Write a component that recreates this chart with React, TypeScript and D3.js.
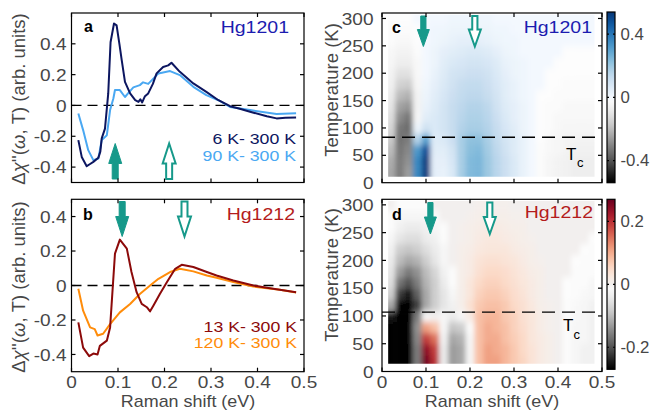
import React from "react";
import * as d3 from "d3";

// ---------------- data ----------------
const xTicks = [0, 0.1, 0.2, 0.3, 0.4, 0.5];
const yTicksA = [-0.4, -0.2, 0, 0.2, 0.4];
const yTicksB = [-0.4, -0.2, 0, 0.2, 0.4];
const tTicks = [0, 50, 100, 150, 200, 250, 300];
const cbTicksC = [-0.4, 0, 0.4];
const cbTicksD = [-0.2, 0, 0.2];

// panel a : Hg1201
const hg1201_6K: [number, number][] = [
  [0.0147, -0.225], [0.022, -0.334], [0.0327, -0.394], [0.04, -0.38], [0.047, -0.366], [0.0577, -0.34],
  [0.062, -0.3], [0.065, -0.214], [0.072, -0.15], [0.079, 0.078], [0.084, 0.41], [0.0914, 0.532],
  [0.097, 0.52], [0.103, 0.4], [0.108, 0.294], [0.115, 0.153], [0.126, 0.078], [0.137, 0.034],
  [0.144, 0.023], [0.148, 0.04], [0.152, 0.02], [0.158, 0.06], [0.165, 0.078], [0.175, 0.14],
  [0.183, 0.208], [0.197, 0.25], [0.208, 0.26], [0.215, 0.277], [0.233, 0.218], [0.262, 0.143],
  [0.29, 0.088], [0.316, 0.034], [0.341, -0.005], [0.36, -0.02], [0.384, -0.041], [0.42, -0.07],
  [0.441, -0.084], [0.46, -0.08], [0.483, -0.078],
];
const hg1201_90K: [number, number][] = [
  [0.0147, -0.052], [0.025, -0.16], [0.036, -0.29], [0.047, -0.355], [0.0577, -0.344], [0.065, -0.225],
  [0.076, -0.193], [0.083, -0.03], [0.09, 0.045], [0.0935, 0.1], [0.104, 0.1], [0.115, 0.055],
  [0.122, 0.08], [0.133, 0.117], [0.147, 0.132], [0.154, 0.15], [0.165, 0.14], [0.187, 0.208],
  [0.212, 0.223], [0.233, 0.197], [0.262, 0.121], [0.29, 0.067], [0.316, 0.034], [0.341, -0.01],
  [0.384, -0.03], [0.441, -0.055], [0.483, -0.05],
];

// panel b : Hg1212
const hg1212_13K: [number, number][] = [
  [0.0147, -0.214], [0.025, -0.36], [0.038, -0.41], [0.047, -0.395], [0.056, -0.4], [0.061, -0.35],
  [0.076, -0.32], [0.083, -0.243], [0.0935, 0.185], [0.104, 0.266], [0.119, 0.214], [0.129, 0.078],
  [0.14, -0.039], [0.151, -0.107], [0.162, -0.126], [0.169, -0.15], [0.176, -0.117], [0.19, -0.049],
  [0.205, 0.019], [0.223, 0.097], [0.237, 0.12], [0.262, 0.107], [0.291, 0.078], [0.312, 0.058],
  [0.348, 0.029], [0.391, 0.0], [0.42, -0.013], [0.448, -0.025], [0.483, -0.039],
];
const hg1212_120K: [number, number][] = [
  [0.0147, -0.019], [0.025, -0.146], [0.04, -0.243], [0.05, -0.253], [0.056, -0.29], [0.068, -0.28],
  [0.083, -0.224], [0.104, -0.156], [0.126, -0.107], [0.147, -0.049], [0.169, 0.0], [0.187, 0.039],
  [0.212, 0.078], [0.233, 0.097], [0.262, 0.082], [0.291, 0.058], [0.312, 0.045], [0.348, 0.02],
  [0.391, -0.006], [0.448, -0.025], [0.483, -0.04],
];

// arrows (energy of gap features, eV)
const arrowsA = [0.094, 0.21];
const arrowsB = [0.109, 0.243];
const arrowsC = [0.094, 0.211];
const arrowsD = [0.11, 0.245];

// Tc (K)
const tcC = 83;
const tcD = 107;

// heat maps: energy columns (eV) x temperature rows (K)
const heatE = [0.02, 0.04, 0.06, 0.08, 0.1, 0.12, 0.14, 0.16, 0.18, 0.2, 0.22, 0.24, 0.26, 0.28, 0.3, 0.32, 0.34, 0.36, 0.38, 0.4, 0.42, 0.44, 0.46, 0.48];
const heatT = [20, 40, 60, 80, 100, 120, 140, 160, 180, 200, 220, 240, 260, 280, 300];
const heatExtentC = { e0: 0.014, e1: 0.483, t0: 11, t1: 307 };
const heatExtentD = { e0: 0.014, e1: 0.483, t0: 14, t1: 307 };

const heatC: number[][] = [
  [-0.24, -0.32, -0.26, 0.36, 0.52, 0.04, 0.03, 0.07, 0.18, 0.24, 0.25, 0.20, 0.15, 0.11, 0.07, 0.03, 0.0, -0.02, -0.04, -0.05, -0.06, -0.07, -0.07, -0.07],
  [-0.23, -0.32, -0.28, 0.36, 0.52, 0.04, 0.04, 0.08, 0.18, 0.24, 0.25, 0.20, 0.15, 0.11, 0.07, 0.03, 0.0, -0.02, -0.04, -0.05, -0.06, -0.07, -0.07, -0.07],
  [-0.20, -0.33, -0.30, 0.32, 0.48, 0.05, 0.05, 0.09, 0.18, 0.23, 0.24, 0.19, 0.14, 0.10, 0.06, 0.03, 0.0, -0.02, -0.03, -0.04, -0.05, -0.06, -0.06, -0.06],
  [-0.17, -0.34, -0.32, 0.16, 0.30, 0.06, 0.07, 0.11, 0.18, 0.22, 0.22, 0.18, 0.13, 0.09, 0.06, 0.03, 0.0, -0.01, -0.03, -0.04, -0.05, -0.05, -0.05, -0.05],
  [-0.14, -0.33, -0.35, 0.02, 0.10, 0.07, 0.09, 0.12, 0.16, 0.18, 0.18, 0.16, 0.12, 0.08, 0.05, 0.02, 0.0, -0.01, -0.02, -0.03, -0.04, -0.04, -0.04, -0.04],
  [-0.12, -0.29, -0.33, -0.04, 0.05, 0.07, 0.09, 0.12, 0.15, 0.17, 0.17, 0.15, 0.11, 0.07, 0.04, 0.02, 0.0, -0.01, -0.02, -0.03, -0.03, -0.03, -0.03, -0.03],
  [-0.10, -0.25, -0.27, -0.05, 0.03, 0.06, 0.09, 0.12, 0.14, 0.16, 0.16, 0.14, 0.10, 0.06, 0.04, 0.02, 0.0, -0.01, -0.02, -0.02, -0.03, -0.03, -0.03, -0.03],
  [-0.08, -0.20, -0.22, -0.05, 0.02, 0.05, 0.08, 0.11, 0.13, 0.14, 0.14, 0.12, 0.09, 0.05, 0.03, 0.01, 0.0, -0.01, -0.01, -0.02, -0.02, -0.02, -0.02, -0.02],
  [-0.06, -0.15, -0.16, -0.04, 0.01, 0.04, 0.07, 0.10, 0.12, 0.13, 0.13, 0.11, 0.08, 0.05, 0.03, 0.01, 0.0, 0.0, -0.01, -0.01, -0.02, -0.02, -0.02, -0.02],
  [-0.05, -0.11, -0.11, -0.03, 0.0, 0.03, 0.06, 0.09, 0.10, 0.11, 0.11, 0.10, 0.07, 0.04, 0.02, 0.01, 0.0, 0.0, -0.01, -0.01, -0.01, -0.01, -0.01, -0.01],
  [-0.04, -0.07, -0.07, -0.03, 0.0, 0.02, 0.05, 0.07, 0.08, 0.09, 0.09, 0.08, 0.06, 0.03, 0.02, 0.01, 0.0, 0.0, 0.0, -0.01, -0.01, -0.01, -0.01, -0.01],
  [-0.03, -0.05, -0.05, -0.02, 0.0, 0.02, 0.04, 0.05, 0.06, 0.07, 0.07, 0.06, 0.04, 0.02, 0.01, 0.0, 0.0, 0.0, 0.0, 0.0, -0.01, -0.01, -0.01, -0.01],
  [-0.02, -0.03, -0.03, -0.01, 0.0, 0.01, 0.02, 0.03, 0.04, 0.04, 0.04, 0.03, 0.02, 0.01, 0.01, 0.0, 0.0, 0.0, 0.0, 0.0, 0.0, 0.0, 0.0, 0.0],
  [-0.02, -0.02, -0.02, -0.01, 0.0, 0.01, 0.01, 0.02, 0.02, 0.02, 0.02, 0.02, 0.01, 0.01, 0.0, 0.0, 0.0, 0.0, 0.0, 0.0, 0.0, 0.0, 0.0, 0.0],
  [-0.01, -0.01, -0.01, 0.0, 0.0, 0.0, 0.0, 0.01, 0.01, 0.01, 0.01, 0.01, 0.0, 0.0, 0.0, 0.0, 0.0, 0.0, 0.0, 0.0, 0.0, 0.0, 0.0, 0.0],
];

const heatD: number[][] = [
  [-0.30, -0.40, -0.38, -0.16, 0.26, 0.20, -0.04, -0.13, -0.12, -0.02, 0.08, 0.11, 0.11, 0.09, 0.07, 0.055, 0.035, 0.02, 0.01, 0.0, -0.01, -0.02, -0.03, -0.03],
  [-0.30, -0.40, -0.38, -0.16, 0.24, 0.19, -0.04, -0.13, -0.12, -0.02, 0.08, 0.11, 0.10, 0.09, 0.07, 0.05, 0.035, 0.02, 0.01, 0.0, -0.01, -0.02, -0.03, -0.03],
  [-0.29, -0.39, -0.37, -0.15, 0.19, 0.15, -0.03, -0.12, -0.11, -0.02, 0.08, 0.10, 0.10, 0.08, 0.065, 0.05, 0.03, 0.02, 0.01, 0.0, -0.01, -0.02, -0.02, -0.03],
  [-0.28, -0.38, -0.36, -0.14, 0.11, 0.08, -0.02, -0.09, -0.08, -0.01, 0.08, 0.10, 0.09, 0.08, 0.06, 0.045, 0.03, 0.015, 0.005, 0.0, -0.01, -0.02, -0.02, -0.03],
  [-0.25, -0.36, -0.36, -0.16, -0.02, 0.0, -0.02, -0.04, -0.02, 0.02, 0.08, 0.09, 0.09, 0.07, 0.06, 0.04, 0.03, 0.015, 0.005, 0.0, -0.01, -0.015, -0.02, -0.03],
  [-0.12, -0.30, -0.32, -0.22, -0.12, -0.08, -0.05, -0.03, 0.01, 0.04, 0.07, 0.08, 0.08, 0.07, 0.05, 0.04, 0.025, 0.01, 0.005, 0.0, -0.01, -0.015, -0.02, -0.03],
  [-0.08, -0.22, -0.25, -0.19, -0.12, -0.08, -0.05, -0.02, 0.01, 0.03, 0.06, 0.07, 0.07, 0.06, 0.045, 0.035, 0.02, 0.01, 0.0, 0.0, -0.005, -0.01, -0.015, -0.02],
  [-0.06, -0.17, -0.20, -0.16, -0.11, -0.08, -0.04, -0.01, 0.01, 0.03, 0.05, 0.06, 0.06, 0.05, 0.04, 0.03, 0.02, 0.01, 0.0, 0.0, -0.005, -0.01, -0.01, -0.02],
  [-0.05, -0.13, -0.16, -0.14, -0.10, -0.07, -0.03, -0.01, 0.01, 0.02, 0.04, 0.05, 0.05, 0.045, 0.035, 0.025, 0.015, 0.01, 0.0, 0.0, 0.0, -0.01, -0.01, -0.01],
  [-0.04, -0.10, -0.12, -0.11, -0.08, -0.05, -0.02, 0.0, 0.01, 0.02, 0.035, 0.04, 0.04, 0.035, 0.03, 0.02, 0.01, 0.005, 0.0, 0.0, 0.0, -0.005, -0.01, -0.01],
  [-0.03, -0.08, -0.09, -0.08, -0.06, -0.04, -0.02, 0.0, 0.01, 0.015, 0.025, 0.03, 0.03, 0.03, 0.02, 0.015, 0.01, 0.0, 0.0, 0.0, 0.0, 0.0, -0.005, -0.01],
  [-0.02, -0.05, -0.06, -0.06, -0.04, -0.03, -0.01, 0.0, 0.005, 0.01, 0.02, 0.025, 0.025, 0.02, 0.015, 0.01, 0.005, 0.0, 0.0, 0.0, 0.0, 0.0, 0.0, -0.005],
  [-0.01, -0.03, -0.04, -0.04, -0.03, -0.02, -0.01, 0.0, 0.005, 0.01, 0.015, 0.02, 0.02, 0.015, 0.01, 0.01, 0.0, 0.0, 0.0, 0.0, 0.0, 0.0, 0.0, 0.0],
  [-0.01, -0.02, -0.02, -0.02, -0.02, -0.01, 0.0, 0.0, 0.0, 0.005, 0.01, 0.01, 0.01, 0.01, 0.005, 0.005, 0.0, 0.0, 0.0, 0.0, 0.0, 0.0, 0.0, 0.0],
  [0.0, -0.01, -0.01, -0.01, -0.01, 0.0, 0.0, 0.0, 0.0, 0.0, 0.005, 0.005, 0.005, 0.005, 0.0, 0.0, 0.0, 0.0, 0.0, 0.0, 0.0, 0.0, 0.0, 0.0],
];
const cbMaxC = 0.54;
const cbMaxD = 0.27;

// ---------------- style ----------------
const FONT = "'Liberation Sans', Arial, Helvetica, sans-serif";
const TXT = "#474747";
const TEAL = "#16998a";
const C_NAVY = "#0c1660";
const C_LBLUE = "#4aa8f2";
const C_DRED = "#8c0a0a";
const C_ORANGE = "#ff8c0a";
const C_HGBLUE = "#1c1cb0";
const C_HGRED = "#b41c1c";

const colorC = (v: number) =>
  v >= 0 ? d3.interpolateBlues(Math.min(1, v / cbMaxC) * 0.96 + 0.02) : d3.interpolateGreys(Math.min(1, -v / cbMaxC));
const colorD = (v: number) =>
  v >= 0 ? d3.interpolateRdBu(0.5 - 0.5 * Math.min(1, v / cbMaxD)) : d3.interpolateGreys(Math.min(1, -v / cbMaxD));

const fmt = (v: number) => (v === 0 ? "0" : String(v));

function Txt(props: any) {
  const { x, y, size = 17, anchor = "start", fill = TXT, weight = "normal", sx = 1, rot = 0, children, dy } = props;
  return (
    <g transform={`translate(${x},${y}) rotate(${rot}) scale(${sx},1)`}>
      <text x={0} y={0} dy={dy} fontSize={size} textAnchor={anchor} fill={fill} fontWeight={weight} fontFamily={FONT}>
        {children}
      </text>
    </g>
  );
}

function Frame({ xs, ys, xt, yt, tl = 4 }: any) {
  const [x0, x1] = xs.range();
  const [y0, y1] = ys.range(); // y0 bottom
  return (
    <g stroke="#000" strokeWidth={1.2} fill="none">
      <rect x={x0} y={y1} width={x1 - x0} height={y0 - y1} />
      {xt.map((t: number, i: number) => (
        <g key={"x" + i}>
          <line x1={xs(t)} x2={xs(t)} y1={y0} y2={y0 - tl} />
          <line x1={xs(t)} x2={xs(t)} y1={y1} y2={y1 + tl} />
        </g>
      ))}
      {yt.map((t: number, i: number) => (
        <g key={"y" + i}>
          <line x1={x0} x2={x0 + tl} y1={ys(t)} y2={ys(t)} />
          <line x1={x1} x2={x1 - tl} y1={ys(t)} y2={ys(t)} />
        </g>
      ))}
    </g>
  );
}

function Arrow({ cx, yTail, yTip, filled, head = 19, hw = 6.5, sw = 3 }: any) {
  const d = Math.sign(yTip - yTail);
  const yb = yTip - d * head;
  const pts = [
    [cx - sw, yTail], [cx - sw, yb], [cx - hw, yb], [cx, yTip], [cx + hw, yb], [cx + sw, yb], [cx + sw, yTail],
  ];
  return (
    <polygon
      points={pts.map((p) => p.join(",")).join(" ")}
      fill={filled ? TEAL : "#fff"}
      stroke={TEAL}
      strokeWidth={filled ? 1 : 2}
      strokeLinejoin="miter"
    />
  );
}

function Heat({ id, xs, ys, M, color, ext }: any) {
  const dE = 0.02, dT = 20;
  const cells: any[] = [];
  M.forEach((row: number[], j: number) => {
    row.forEach((v: number, i: number) => {
      let e0 = heatE[i] - dE / 2, e1 = heatE[i] + dE / 2;
      let t0 = heatT[j] - dT / 2, t1 = heatT[j] + dT / 2;
      if (i === 0) e0 -= dE * 2;
      if (i === heatE.length - 1) e1 += dE * 2;
      if (j === 0) t0 -= dT * 2;
      if (j === heatT.length - 1) t1 += dT * 2;
      cells.push(
        <rect key={i + "_" + j} x={xs(e0)} y={ys(t1)} width={xs(e1) - xs(e0) + 0.5} height={ys(t0) - ys(t1) + 0.5} fill={color(v)} />
      );
    });
  });
  return (
    <g>
      <defs>
        <clipPath id={"clip" + id}>
          <rect x={xs(ext.e0)} y={ys(ext.t1)} width={xs(ext.e1) - xs(ext.e0)} height={ys(ext.t0) - ys(ext.t1)} />
        </clipPath>
        <filter id={"blur" + id} x="-5%" y="-5%" width="110%" height="110%">
          <feGaussianBlur stdDeviation="2.4 3.4" />
        </filter>
      </defs>
      <g clipPath={`url(#clip${id})`}>
        <g filter={`url(#blur${id})`}>{cells}</g>
      </g>
    </g>
  );
}

function Colorbar({ id, x0, x1, yTop, yBot, max, ticks, color }: any) {
  const s = d3.scaleLinear().domain([-max, max]).range([yBot, yTop]);
  const stops = d3.range(0, 41).map((k) => -max + (2 * max * k) / 40);
  return (
    <g>
      <defs>
        <linearGradient id={"cb" + id} x1="0" y1="1" x2="0" y2="0">
          {stops.map((v, k) => (
            <stop key={k} offset={`${(k / 40) * 100}%`} stopColor={color(v)} />
          ))}
        </linearGradient>
      </defs>
      <rect x={x0} y={yTop} width={x1 - x0} height={yBot - yTop} fill={`url(#cb${id})`} stroke="#000" strokeWidth={1.2} />
      {ticks.map((t: number, i: number) => (
        <g key={i}>
          <line x1={x0} x2={x0 + 2} y1={s(t)} y2={s(t)} stroke="#000" strokeWidth={1.2} />
          <line x1={x1} x2={x1 - 2} y1={s(t)} y2={s(t)} stroke="#000" strokeWidth={1.2} />
          <Txt x={x1 + 5.5} y={s(t)} dy="0.36em" size={16} sx={1.05}>
            {fmt(t)}
          </Txt>
        </g>
      ))}
    </g>
  );
}

function DeltaChiLabel({ x, y }: any) {
  return (
    <g transform={`translate(${x},${y}) rotate(-90)`}>
      <text x={0} y={0} textAnchor="middle" fontSize={18.5} fill={TXT} fontFamily={FONT}>
        Δ<tspan fontStyle="italic">χ</tspan>''(<tspan fontStyle="italic">ω</tspan>, T) (arb. units)
      </text>
    </g>
  );
}

export default function App() {
  // scales
  const xsL = d3.scaleLinear().domain([0, 0.5]).range([71.5, 304]);
  const xsR = d3.scaleLinear().domain([0, 0.5]).range([382, 602]);
  const ysA = d3.scaleLinear().domain([-0.5, 0.6]).range([182.5, 13]);
  const ysB = d3.scaleLinear().domain([-0.5, 0.5]).range([371.7, 199.3]);
  const ysC = d3.scaleLinear().domain([0, 310]).range([182.7, 13]);
  const ysD = d3.scaleLinear().domain([0, 310]).range([371.5, 199.3]);

  const line = (xs: any, ys: any) =>
    d3.line<[number, number]>().x((d) => xs(d[0])).y((d) => ys(d[1])).curve(d3.curveLinear);

  const SX = 1.12;
  const TS = 17;

  return (
    <svg width={652} height={411} style={{ position: "absolute", left: 0, top: 0, background: "#fff" }} fontFamily={FONT}>
      <rect x={0} y={0} width={652} height={411} fill="#fff" />

      {/* ---------- panel a ---------- */}
      <line x1={xsL(0)} x2={xsL(0.5)} y1={ysA(0)} y2={ysA(0)} stroke="#000" strokeWidth={1.3} strokeDasharray="10,6" />
      <path d={line(xsL, ysA)(hg1201_90K) || ""} fill="none" stroke={C_LBLUE} strokeWidth={2} strokeLinejoin="round" />
      <path d={line(xsL, ysA)(hg1201_6K) || ""} fill="none" stroke={C_NAVY} strokeWidth={2} strokeLinejoin="round" />
      {arrowsA.map((e, i) => (
        <Arrow key={i} cx={xsL(e)} yTail={179} yTip={143.5} filled={i === 0} head={20} />
      ))}
      <Frame xs={xsL} ys={ysA} xt={xTicks} yt={yTicksA} />
      {yTicksA.map((t, i) => (
        <Txt key={i} x={66.5} y={ysA(t)} dy="0.36em" anchor="end" size={TS} sx={SX}>
          {fmt(t)}
        </Txt>
      ))}
      <Txt x={84} y={32} size={16} weight="bold" fill="#000">a</Txt>
      <Txt x={289} y={33} size={16} anchor="end" fill={C_HGBLUE} sx={1.22}>Hg1201</Txt>
      <Txt x={296} y={143.5} size={15} anchor="end" fill={C_NAVY} sx={1.18}>6 K- 300 K</Txt>
      <Txt x={296} y={160.5} size={15} anchor="end" fill={C_LBLUE} sx={1.18}>90 K- 300 K</Txt>
      <DeltaChiLabel x={25} y={99} />

      {/* ---------- panel b ---------- */}
      <line x1={xsL(0)} x2={xsL(0.5)} y1={ysB(0)} y2={ysB(0)} stroke="#000" strokeWidth={1.3} strokeDasharray="10,6" />
      <path d={line(xsL, ysB)(hg1212_120K) || ""} fill="none" stroke={C_ORANGE} strokeWidth={2} strokeLinejoin="round" />
      <path d={line(xsL, ysB)(hg1212_13K) || ""} fill="none" stroke={C_DRED} strokeWidth={2} strokeLinejoin="round" />
      {arrowsB.map((e, i) => (
        <Arrow key={i} cx={xsL(e)} yTail={201.5} yTip={236.5} filled={i === 0} head={20} />
      ))}
      <Frame xs={xsL} ys={ysB} xt={xTicks} yt={yTicksB} />
      {yTicksB.map((t, i) => (
        <Txt key={i} x={66.5} y={ysB(t)} dy="0.36em" anchor="end" size={TS} sx={SX}>
          {fmt(t)}
        </Txt>
      ))}
      {xTicks.map((t, i) => (
        <Txt key={i} x={xsL(t)} y={388} anchor="middle" size={TS} sx={SX}>
          {fmt(t)}
        </Txt>
      ))}
      <Txt x={188} y={407} size={16} anchor="middle" sx={1.12}>Raman shift (eV)</Txt>
      <Txt x={83} y={220} size={16} weight="bold" fill="#000">b</Txt>
      <Txt x={295} y={220} size={16} anchor="end" fill={C_HGRED} sx={1.22}>Hg1212</Txt>
      <Txt x={297} y={331.5} size={15} anchor="end" fill={C_DRED} sx={1.18}>13 K- 300 K</Txt>
      <Txt x={297} y={348} size={15} anchor="end" fill={C_ORANGE} sx={1.18}>120 K- 300 K</Txt>
      <DeltaChiLabel x={25} y={287} />

      {/* ---------- panel c ---------- */}
      <Heat id="C" xs={xsR} ys={ysC} M={heatC} color={colorC} ext={heatExtentC} />
      <line x1={xsR(0)} x2={xsR(0.5)} y1={ysC(tcC)} y2={ysC(tcC)} stroke="#000" strokeWidth={1.3} strokeDasharray="13,7" />
      {arrowsC.map((e, i) => (
        <Arrow key={i} cx={xsR(e)} yTail={16} yTip={46.5} filled={i === 0} head={17} hw={6} sw={2.6} />
      ))}
      <Frame xs={xsR} ys={ysC} xt={xTicks} yt={tTicks.slice(1)} />
      {tTicks.map((t, i) => (
        <Txt key={i} x={373.5} y={ysC(t)} dy="0.36em" anchor="end" size={TS} sx={SX}>
          {fmt(t)}
        </Txt>
      ))}
      <Txt x={392} y={33} size={16} weight="bold" fill="#000">c</Txt>
      <Txt x={592} y={33} size={16} anchor="end" fill={C_HGBLUE} sx={1.22}>Hg1201</Txt>
      <Txt x={566} y={159.5} size={17} fill="#000">T</Txt>
      <Txt x={577} y={166.5} size={13} fill="#000">c</Txt>
      <Txt x={338} y={90} size={18.5} anchor="middle" rot={-90}>Temperature (K)</Txt>
      <Colorbar id="C" x0={607} x1={615} yTop={12} yBot={182.7} max={cbMaxC} ticks={cbTicksC} color={colorC} />

      {/* ---------- panel d ---------- */}
      <Heat id="D" xs={xsR} ys={ysD} M={heatD} color={colorD} ext={heatExtentD} />
      <line x1={xsR(0)} x2={xsR(0.5)} y1={ysD(tcD)} y2={ysD(tcD)} stroke="#000" strokeWidth={1.3} strokeDasharray="13,7" />
      {arrowsD.map((e, i) => (
        <Arrow key={i} cx={xsR(e)} yTail={202.5} yTip={234} filled={i === 0} head={17} hw={6} sw={2.6} />
      ))}
      <Frame xs={xsR} ys={ysD} xt={xTicks} yt={tTicks.slice(1)} />
      {tTicks.map((t, i) => (
        <Txt key={i} x={373.5} y={ysD(t)} dy="0.36em" anchor="end" size={TS} sx={SX}>
          {fmt(t)}
        </Txt>
      ))}
      {xTicks.map((t, i) => (
        <Txt key={i} x={xsR(t)} y={388} anchor="middle" size={TS} sx={SX}>
          {fmt(t)}
        </Txt>
      ))}
      <Txt x={492} y={407} size={16} anchor="middle" sx={1.12}>Raman shift (eV)</Txt>
      <Txt x={392} y={220} size={16} weight="bold" fill="#000">d</Txt>
      <Txt x={593} y={218} size={16} anchor="end" fill={C_HGRED} sx={1.22}>Hg1212</Txt>
      <Txt x={563} y={331} size={17} fill="#000">T</Txt>
      <Txt x={573.5} y={339} size={13} fill="#000">c</Txt>
      <Txt x={338} y={275} size={18.5} anchor="middle" rot={-90}>Temperature (K)</Txt>
      <Colorbar id="D" x0={607} x1={615} yTop={199.3} yBot={369.3} max={cbMaxD} ticks={cbTicksD} color={colorD} />
    </svg>
  );
}
